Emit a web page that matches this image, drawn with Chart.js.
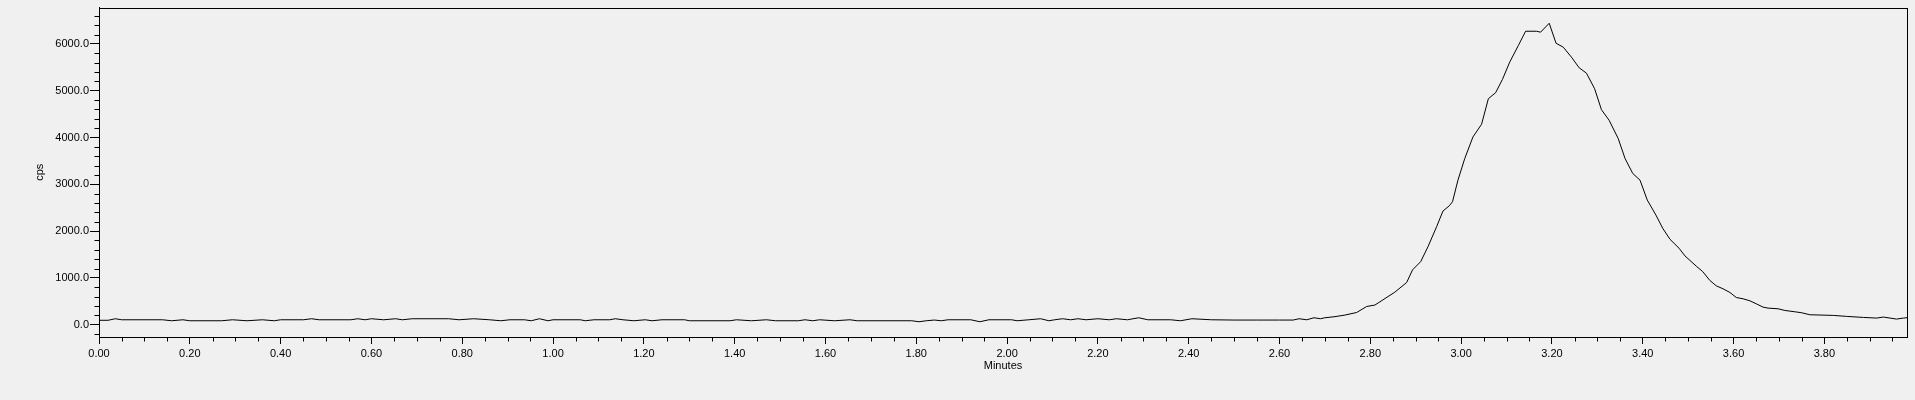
<!DOCTYPE html>
<html>
<head>
<meta charset="utf-8">
<title>cps vs Minutes</title>
<script src="https://cdn.jsdelivr.net/npm/chart.js@4.4.1/dist/chart.umd.min.js"></script>
<style>
  html, body { margin: 0; padding: 0; background: #f0f0f0; overflow: hidden; }
  canvas { display: block; }
</style>
</head>
<body>
<canvas id="trace" width="1915" height="400"></canvas>
<script>
// retention time (min) and intensity (cps)
const minutes = [
  0.00, 0.02, 0.036, 0.05, 0.14, 0.16, 0.185, 0.20, 0.27, 0.294,
  0.326, 0.36, 0.386, 0.40, 0.45, 0.468, 0.485, 0.555, 0.57, 0.586,
  0.60, 0.627, 0.653, 0.668, 0.69, 0.77, 0.793, 0.825, 0.86, 0.885,
  0.905, 0.937, 0.952, 0.97, 0.989, 1.00, 1.06, 1.071, 1.09, 1.125,
  1.137, 1.154, 1.178, 1.203, 1.218, 1.24, 1.29, 1.30, 1.39, 1.404,
  1.437, 1.47, 1.49, 1.54, 1.555, 1.572, 1.587, 1.62, 1.654, 1.67,
  1.79, 1.806, 1.822, 1.84, 1.855, 1.87, 1.92, 1.94, 1.96, 2.01,
  2.022, 2.048, 2.074, 2.092, 2.105, 2.122, 2.14, 2.156, 2.174, 2.20,
  2.225, 2.241, 2.265, 2.29, 2.31, 2.36, 2.382, 2.407, 2.45, 2.50,
  2.55, 2.60, 2.63, 2.643, 2.66, 2.676, 2.69, 2.70, 2.72, 2.744,
  2.770, 2.792, 2.810, 2.828, 2.854, 2.880, 2.893, 2.911, 2.927, 2.946,
  2.960, 2.974, 2.981, 2.993, 3.008, 3.026, 3.045, 3.060, 3.076, 3.091,
  3.107, 3.126, 3.142, 3.166, 3.175, 3.194, 3.209, 3.225, 3.243, 3.260,
  3.276, 3.294, 3.309, 3.326, 3.346, 3.361, 3.378, 3.394, 3.410, 3.429,
  3.444, 3.460, 3.480, 3.493, 3.519, 3.532, 3.548, 3.562, 3.577, 3.592,
  3.606, 3.621, 3.636, 3.650, 3.665, 3.676, 3.698, 3.713, 3.735, 3.750,
  3.768, 3.820, 3.849, 3.886, 3.915, 3.930, 3.959, 3.974, 3.982,
];
const cps = [
  95, 95, 128, 106, 106, 85, 106, 85, 85, 106,
  85, 106, 85, 106, 106, 128, 106, 106, 128, 106,
  128, 106, 128, 106, 128, 128, 106, 128, 106, 85,
  106, 106, 85, 128, 85, 106, 106, 85, 106, 106,
  128, 106, 85, 106, 85, 106, 106, 85, 85, 106,
  85, 106, 85, 85, 106, 85, 106, 85, 106, 85,
  85, 64, 85, 100, 85, 106, 106, 64, 106, 106,
  85, 106, 128, 85, 106, 128, 106, 128, 106, 128,
  106, 128, 106, 149, 106, 106, 85, 128, 106, 100,
  100, 100, 100, 128, 106, 149, 128, 149, 170, 206,
  262, 390, 420, 533, 696, 902, 1172, 1349, 1668, 2094,
  2429, 2542, 2627, 3089, 3551, 4011, 4282, 4829, 4957, 5241,
  5610, 5965, 6270, 6270, 6250, 6441, 6014, 5929, 5716, 5489,
  5375, 5042, 4595, 4367, 3977, 3551, 3231, 3089, 2663, 2343,
  2060, 1825, 1634, 1470, 1242, 1136, 944, 831, 767, 689,
  582, 554, 511, 447, 376, 355, 341, 305, 277, 256,
  213, 199, 178, 156, 142, 164, 121, 142, 150,
];

const xTicks = [0, 0.2, 0.4, 0.6, 0.8, 1.0, 1.2, 1.4, 1.6, 1.8, 2.0, 2.2, 2.4, 2.6, 2.8, 3.0, 3.2, 3.4, 3.6, 3.8];
const yTicks = [0, 1000, 2000, 3000, 4000, 5000, 6000];
const xRange = [0, 3.982];
const yRange = [-262, 6775];

const xMinor = [];
for (let i = 0; i * 0.05 <= xRange[1]; i += 1) {
  if (i % 4 !== 0) xMinor.push(i * 0.05);
}
const yMinor = [];
for (let v = -200; v <= 6600; v += 200) {
  if (v % 1000 !== 0) yMinor.push(v);
}

const tickFont = { family: 'Liberation Sans', size: 11 };

// short ticks between the labelled ones, plus the box round the plot
const frameAndMinorTicks = {
  id: 'frameAndMinorTicks',
  afterDraw(chart) {
    const { ctx, chartArea } = chart;
    const { x, y } = chart.scales;
    const left = Math.round(chartArea.left) + 0.5;
    const bottom = Math.round(chartArea.bottom) + 0.5;
    ctx.save();
    ctx.strokeStyle = '#000';
    ctx.lineWidth = 1;
    ctx.beginPath();
    xMinor.forEach((v) => {
      const px = Math.round(x.getPixelForValue(v)) + 0.5;
      ctx.moveTo(px, bottom);
      ctx.lineTo(px, bottom + 4);
    });
    yMinor.forEach((v) => {
      const py = Math.round(y.getPixelForValue(v)) + 0.5;
      ctx.moveTo(left, py);
      ctx.lineTo(left - 5, py);
    });
    ctx.stroke();
    ctx.strokeRect(left, Math.round(chartArea.top) + 0.5,
      Math.round(chartArea.right) - Math.round(chartArea.left),
      Math.round(chartArea.bottom) - Math.round(chartArea.top));
    ctx.restore();
  },
};

new Chart(document.getElementById('trace'), {
  type: 'line',
  data: {
    datasets: [{
      label: 'cps',
      data: minutes.map((t, i) => ({ x: t, y: cps[i] })),
      borderColor: '#000',
      borderWidth: 1,
      pointRadius: 0,
      tension: 0,
      fill: false,
    }],
  },
  options: {
    responsive: false,
    animation: false,
    devicePixelRatio: 1,
    layout: { padding: { left: 0, top: 7, right: 8, bottom: 0 } },
    plugins: { legend: { display: false }, tooltip: { enabled: false } },
    scales: {
      x: {
        type: 'linear',
        min: xRange[0],
        max: xRange[1],
        afterBuildTicks: (scale) => { scale.ticks = xTicks.map((v) => ({ value: v })); },
        afterFit: (scale) => { scale.height = 63; },
        grid: { drawOnChartArea: false, drawTicks: true, tickLength: 7, color: '#000' },
        border: { display: true, color: '#000' },
        ticks: {
          autoSkip: false,
          maxRotation: 0,
          padding: 3,
          color: '#000',
          font: tickFont,
          callback: (v) => Number(v).toFixed(2),
        },
        title: {
          display: true,
          text: 'Minutes',
          color: '#000',
          font: tickFont,
          padding: { top: 0, bottom: 27 },
        },
      },
      y: {
        type: 'linear',
        min: yRange[0],
        max: yRange[1],
        afterBuildTicks: (scale) => { scale.ticks = yTicks.map((v) => ({ value: v })); },
        afterFit: (scale) => { scale.width = 99; },
        grid: { drawOnChartArea: false, drawTicks: true, tickLength: 9, color: '#000' },
        border: { display: true, color: '#000' },
        ticks: {
          padding: 1,
          color: '#000',
          font: tickFont,
          callback: (v) => Number(v).toFixed(1),
        },
        title: {
          display: true,
          text: 'cps',
          color: '#000',
          font: tickFont,
          padding: { top: 33, bottom: 0 },
        },
      },
    },
  },
  plugins: [frameAndMinorTicks],
});
</script>
</body>
</html>
